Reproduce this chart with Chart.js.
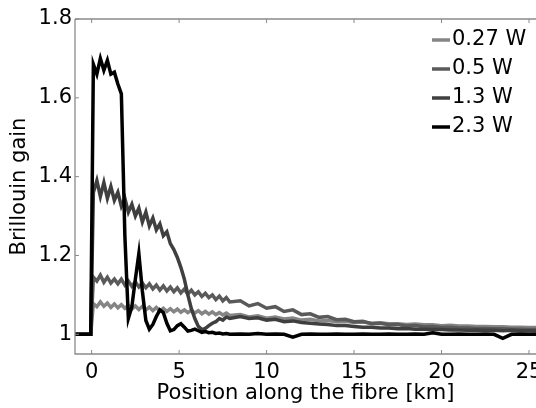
<!DOCTYPE html>
<html>
<head>
<meta charset="utf-8">
<script src="https://cdn.jsdelivr.net/npm/chart.js@4"></script>
<style>
  html, body { margin: 0; padding: 0; background: #fff; }
  #wrap { width: 536px; height: 408px; }
</style>
</head>
<body>
<div id="wrap"><canvas id="grafico"></canvas></div>
<script>
const positions = [-1, -0.05,
  0.1, 0.3, 0.5, 0.7, 0.9, 1.1, 1.3, 1.5, 1.7, 1.9,
  2.1, 2.3, 2.5, 2.7, 2.9, 3.1, 3.3, 3.5, 3.7, 3.9,
  4.1, 4.3, 4.5, 4.7, 4.9, 5.1, 5.3, 5.5, 5.7, 5.9,
  6.1, 6.3, 6.5, 6.7, 6.9, 7.1, 7.3, 7.5, 7.7, 7.9,
  8.5, 9, 9.5, 10, 10.5, 11, 11.5, 12, 12.5, 13,
  13.5, 14, 14.5, 15, 15.5, 16, 16.5, 17, 17.5, 18,
  18.5, 19, 19.5, 20, 20.5, 21, 21.5, 22, 22.5, 23,
  23.5, 24, 24.5, 25, 25.5, 26];

const gain027 = [1.0, 1.0,
  1.078, 1.07, 1.082, 1.071, 1.079, 1.068, 1.077, 1.067, 1.075, 1.066,
  1.074, 1.064, 1.072, 1.063, 1.071, 1.062, 1.069, 1.06, 1.068, 1.059,
  1.066, 1.058, 1.065, 1.057, 1.064, 1.056, 1.062, 1.055, 1.061, 1.054,
  1.06, 1.052, 1.058, 1.051, 1.057, 1.05, 1.055, 1.049, 1.054, 1.048,
  1.05, 1.044, 1.047, 1.041, 1.044, 1.039, 1.041, 1.036, 1.038, 1.034,
  1.035, 1.032, 1.033, 1.03, 1.031, 1.028, 1.029, 1.027, 1.027, 1.025,
  1.026, 1.024, 1.024, 1.022, 1.023, 1.021, 1.021, 1.02, 1.02, 1.019,
  1.019, 1.018, 1.018, 1.017, 1.017, 1.016];

const gain05 = [1.0, 1.0,
  1.145, 1.135, 1.15, 1.132, 1.145, 1.13, 1.14, 1.128, 1.14, 1.125,
  1.135, 1.122, 1.133, 1.12, 1.13, 1.118, 1.128, 1.115, 1.125, 1.112,
  1.123, 1.11, 1.12, 1.108, 1.118, 1.105, 1.115, 1.102, 1.112, 1.10,
  1.108, 1.096, 1.104, 1.093, 1.10, 1.088, 1.097, 1.085, 1.093, 1.082,
  1.085, 1.072, 1.078, 1.066, 1.07, 1.058, 1.062, 1.05, 1.052, 1.043,
  1.045, 1.037, 1.038, 1.032, 1.033, 1.027, 1.028, 1.024, 1.025, 1.021,
  1.022, 1.019, 1.02, 1.017, 1.018, 1.016, 1.016, 1.015, 1.015, 1.014,
  1.014, 1.013, 1.013, 1.012, 1.012, 1.011];

const gain13 = [1.0, 1.0,
  1.36, 1.39, 1.35, 1.385, 1.345, 1.375, 1.34, 1.36, 1.325, 1.345,
  1.31, 1.33, 1.30, 1.32, 1.285, 1.31, 1.275, 1.295, 1.265, 1.28,
  1.25, 1.26, 1.23, 1.215, 1.195, 1.17, 1.14, 1.10, 1.065, 1.04,
  1.02, 1.012, 1.015, 1.022, 1.028, 1.032, 1.04, 1.036, 1.044, 1.04,
  1.045, 1.04, 1.042, 1.036, 1.038, 1.032, 1.034, 1.03, 1.028, 1.026,
  1.025, 1.022, 1.022, 1.02, 1.018, 1.018, 1.016, 1.016, 1.014, 1.015,
  1.013, 1.013, 1.012, 1.012, 1.011, 1.011, 1.01, 1.011, 1.01, 1.01,
  1.009, 1.01, 1.009, 1.009, 1.008, 1.008];

const gain23 = [1.0, 1.0,
  1.685, 1.66, 1.70, 1.67, 1.695, 1.66, 1.665, 1.635, 1.61, 1.25,
  1.04, 1.07, 1.14, 1.205, 1.11, 1.035, 1.013, 1.025, 1.045, 1.062,
  1.055, 1.028, 1.009, 1.012, 1.022, 1.027, 1.018, 1.008, 1.010, 1.013,
  1.009, 1.005, 1.007, 1.004, 1.005, 1.002, 1.003, 1.001, 1.002, 1.000,
  1.001, 1.000, 1.002, 1.000, 1.001, 1.000, 0.993, 1.000, 1.001, 1.000,
  1.000, 1.001, 1.000, 1.000, 1.001, 1.000, 1.000, 1.001, 1.000, 1.000,
  1.001, 1.000, 1.004, 1.000, 1.000, 1.001, 1.000, 1.000, 1.001, 1.000,
  0.99, 1.000, 1.001, 1.000, 1.000, 1.000];

const seriesLabels = ['0.27 W', '0.5 W', '1.3 W', '2.3 W'];
const seriesValues = [gain027, gain05, gain13, gain23];
const seriesColors = ['#858585', '#5a5a5a', '#3f3f3f', '#000000'];
const xTicks = [0, 5, 10, 15, 20, 25];
const yTicks = [1, 1.2, 1.4, 1.6, 1.8];

const fonte = 'DejaVu Sans';

// caixa cinza com marcas para dentro
const caixaPlugin = {
  id: 'caixa',
  afterDatasetsDraw(chart) {
    const { ctx, chartArea: a, scales } = chart;
    ctx.save();
    ctx.strokeStyle = '#8a8a8a';
    ctx.lineWidth = 1.3;
    ctx.beginPath();
    ctx.moveTo(a.left, a.top);
    ctx.lineTo(a.right + 5, a.top);
    ctx.moveTo(a.left, a.top);
    ctx.lineTo(a.left, a.bottom);
    ctx.lineTo(a.right + 5, a.bottom);
    ctx.stroke();
    ctx.lineWidth = 1;
    ctx.beginPath();
    xTicks.forEach(v => {
      const px = scales.x.getPixelForValue(v);
      ctx.moveTo(px, a.bottom); ctx.lineTo(px, a.bottom - 4);
      ctx.moveTo(px, a.top); ctx.lineTo(px, a.top + 4);
    });
    yTicks.forEach(v => {
      const py = scales.y.getPixelForValue(v);
      ctx.moveTo(a.left, py); ctx.lineTo(a.left + 4, py);
    });
    ctx.stroke();
    ctx.restore();
  }
};

// legenda dentro da área do gráfico
const legendaPlugin = {
  id: 'legendaInterna',
  afterDraw(chart) {
    const { ctx } = chart;
    ctx.save();
    ctx.font = '21px "' + fonte + '"';
    ctx.textBaseline = 'middle';
    ctx.fillStyle = '#000';
    seriesLabels.forEach((txt, i) => {
      const y = 40 + i * 29;
      ctx.strokeStyle = seriesColors[i];
      ctx.lineWidth = 3.5;
      ctx.beginPath();
      ctx.moveTo(432, y);
      ctx.lineTo(450, y);
      ctx.stroke();
      ctx.fillText(txt, 452, y);
    });
    ctx.restore();
  }
};

const ctx = document.getElementById('grafico').getContext('2d');
new Chart(ctx, {
  type: 'line',
  data: {
    datasets: seriesLabels.map((label, i) => ({
      label: label,
      data: positions.map((x, j) => ({ x: x, y: seriesValues[i][j] })),
      borderColor: seriesColors[i],
      borderWidth: 3.5,
      pointRadius: 0,
      tension: 0,
      fill: false,
      order: seriesLabels.length - i
    }))
  },
  options: {
    responsive: true,
    maintainAspectRatio: false,
    animation: false,
    layout: { padding: { top: 19, right: 0, left: 0, bottom: 0 } },
    plugins: {
      legend: { display: false },
      tooltip: { enabled: false }
    },
    scales: {
      x: {
        type: 'linear',
        min: -0.95,
        max: 25.4,
        afterFit: s => { s.height = 54; s.paddingLeft = 0; s.paddingRight = 0; },
        afterBuildTicks: s => { s.ticks = xTicks.map(v => ({ value: v })); },
        grid: { display: false, drawTicks: false },
        border: { display: false },
        ticks: { color: '#000', padding: 6, maxRotation: 0, font: { family: fonte, size: 21 } },
        title: {
          display: true,
          text: 'Position along the fibre [km]',
          color: '#000',
          padding: { top: 0, bottom: 2 },
          font: { family: fonte, size: 21 }
        }
      },
      y: {
        type: 'linear',
        min: 0.95,
        max: 1.8,
        afterFit: s => { s.width = 75; s.paddingTop = 0; s.paddingBottom = 0; },
        afterBuildTicks: s => { s.ticks = yTicks.map(v => ({ value: v })); },
        grid: { display: false, drawTicks: false },
        border: { display: false },
        ticks: {
          color: '#000',
          padding: 3,
          font: { family: fonte, size: 21 },
          callback: v => String(v)
        },
        title: {
          display: true,
          text: 'Brillouin gain',
          color: '#000',
          padding: { top: 7, bottom: 0 },
          font: { family: fonte, size: 21 }
        }
      }
    }
  },
  plugins: [caixaPlugin, legendaPlugin]
});
</script>
</body>
</html>
